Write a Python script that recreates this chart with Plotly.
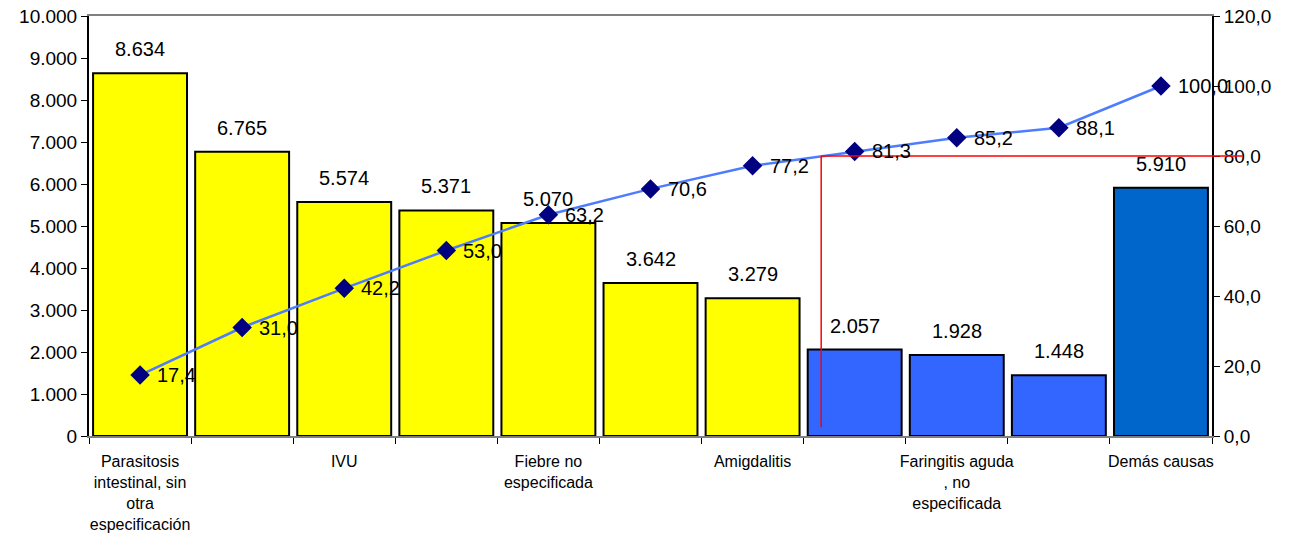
import plotly.graph_objects as go

# Pareto of consultation causes
categories = [
    "Parasitosis<br>intestinal, sin<br>otra<br>especificación",
    "",
    "IVU",
    "",
    "Fiebre no<br>especificada",
    "",
    "Amigdalitis",
    "",
    "Faringitis aguda<br>, no<br>especificada",
    "",
    "Demás causas",
]
cases = [8634, 6765, 5574, 5371, 5070, 3642, 3279, 2057, 1928, 1448, 5910]
cumulative_pct = [17.4, 31.0, 42.2, 53.0, 63.2, 70.6, 77.2, 81.3, 85.2, 88.1, 100.0]
bar_colors = ["#FFFF00"] * 7 + ["#3366FF"] * 3 + ["#0066CC"]
threshold_pct = 80

FONT = "Liberation Sans"
idx = list(range(len(cases)))

fig = go.Figure()

fig.add_trace(go.Bar(
    x=idx, y=cases,
    marker=dict(color=bar_colors, line=dict(color="#000000", width=2)),
    hoverinfo="y",
    showlegend=False,
))

fig.add_trace(go.Scatter(
    x=idx, y=cumulative_pct, yaxis="y2",
    mode="lines+markers",
    line=dict(color="#4D7CFF", width=2.5),
    marker=dict(symbol="diamond", size=15, color="#000080"),
    showlegend=False,
    cliponaxis=False,
))

# value labels above each bar
for i, v in zip(idx, cases):
    fig.add_annotation(
        x=i, y=v, xref="x", yref="y",
        text=f"{v:,}".replace(",", "."),
        showarrow=False, yanchor="bottom", yshift=11,
        font=dict(family=FONT, size=20, color="#000000"),
    )

# cumulative-percentage labels to the right of each marker
for i, p in zip(idx, cumulative_pct):
    fig.add_annotation(
        x=i, y=p, xref="x", yref="y2",
        text=f"{p:.1f}".replace(".", ","),
        showarrow=False, xanchor="left", yanchor="middle", xshift=15,
        font=dict(family=FONT, size=20, color="#000000"),
    )

# 80 % cut-off marker
fig.add_shape(type="line", xref="paper", yref="paper",
              x0=0.652, x1=0.652, y0=0.021, y1=threshold_pct / 120,
              line=dict(color="#FF0000", width=1.5))
fig.add_shape(type="line", xref="paper", yref="paper",
              x0=0.652, x1=1.027, y0=threshold_pct / 120, y1=threshold_pct / 120,
              line=dict(color="#FF0000", width=1.5))

fig.update_layout(
    width=1301, height=539,
    margin=dict(l=89, r=89, t=16, b=103, autoexpand=False),
    paper_bgcolor="white", plot_bgcolor="white",
    separators=",.",
    bargap=0.08,
    font=dict(family=FONT, color="#000000"),
    xaxis=dict(
        type="category",
        range=[-0.5, len(cases) - 0.5],
        tickmode="array", tickvals=idx, ticktext=categories,
        tickson="boundaries", tickangle=0, automargin=False,
        ticks="outside", ticklen=6, tickcolor="#000000",
        showline=True, linecolor="#808080", linewidth=2, mirror=True,
        showgrid=False, zeroline=False,
        tickfont=dict(family=FONT, size=16, color="#000000"),
        ticklabelstandoff=10,
    ),
    yaxis=dict(
        range=[0, 10000], dtick=1000, tickformat=",d", automargin=False,
        ticks="outside", ticklen=6, tickcolor="#000000",
        showline=True, linecolor="#000000", linewidth=2,
        showgrid=False, zeroline=False,
        tickfont=dict(family=FONT, size=19, color="#000000"),
    ),
    yaxis2=dict(
        overlaying="y", side="right", automargin=False,
        range=[0, 120], dtick=20, tickformat=".1f",
        ticks="outside", ticklen=6, tickcolor="#000000",
        showline=True, linecolor="#000000", linewidth=2,
        showgrid=False, zeroline=False,
        tickfont=dict(family=FONT, size=19, color="#000000"),
    ),
)

fig.write_html("out.html")
